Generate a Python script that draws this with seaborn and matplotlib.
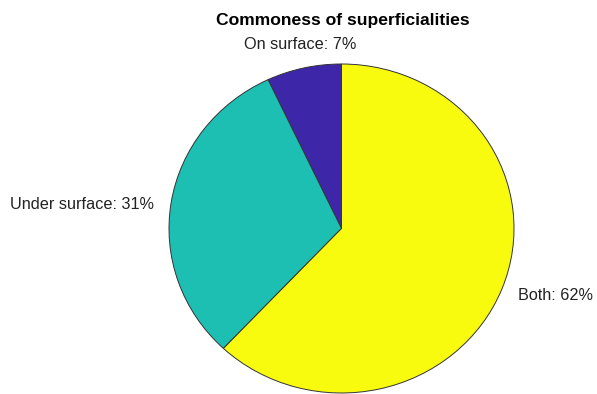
import matplotlib
matplotlib.use("Agg")
import matplotlib.pyplot as plt
import seaborn as sns

categories = ["On surface", "Under surface", "Both"]
shares = [7, 31, 62]
slice_colors = ["#3e26a8", "#1dbfb3", "#f9fb0e"]

sns.set_theme(style="white")
plt.rcParams["font.family"] = ["Liberation Sans", "DejaVu Sans"]

fig = plt.figure(figsize=(5.97, 3.94), dpi=100)
W, H = 597, 394
# axes spanning exactly the unit circle (slightly stretched horizontally)
ax = fig.add_axes([169 / W, 1 / H, 345 / W, 329 / H])

labels = [f"{c}: {v}%" for c, v in zip(categories, shares)]
wedges, texts = ax.pie(
    shares,
    labels=labels,
    colors=sns.color_palette(slice_colors),
    startangle=90,
    counterclock=True,
    labeldistance=1.1,
    wedgeprops=dict(edgecolor="#333333", linewidth=0.7),
    textprops=dict(fontsize=11.7, color="#222222"),
)
for w in wedges:
    w.set_clip_on(False)
for t in texts:
    t.set_clip_on(False)

# label near the top sits centred above its slice
texts[0].set_horizontalalignment("center")
texts[0].set_verticalalignment("bottom")
x, y = texts[1].get_position()
texts[1].set_position((x, y - 0.025))

ax.set_aspect("auto")
ax.set_xlim(-1, 1)
ax.set_ylim(-1, 1)
ax.axis("off")

fig.text(343 / W, 1 - 20 / H, "Commoness of superficialities",
         ha="center", va="center", fontsize=12.6, fontweight="bold", color="black")

fig.savefig("out.png", dpi=100)
